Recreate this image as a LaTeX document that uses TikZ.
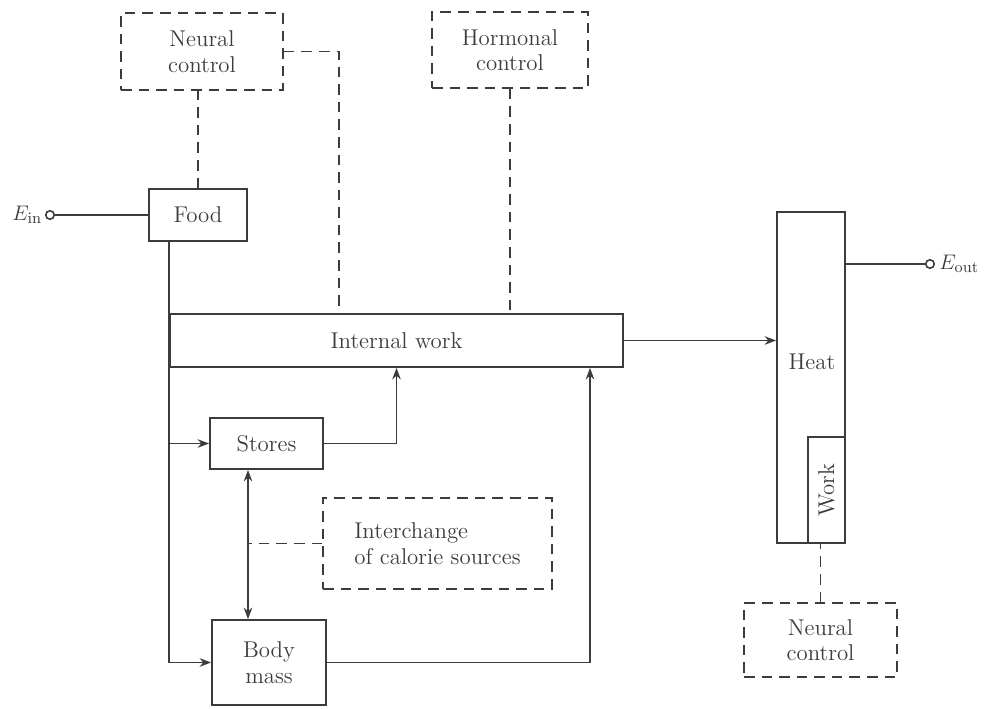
\documentclass[tikz,border=0pt]{standalone}
\usepackage{tikz}
\usetikzlibrary{arrows.meta}
\definecolor{ink}{RGB}{60, 60, 60}

\begin{document}
\begin{tikzpicture}[
  >={Stealth[length=2.3mm,width=1.7mm]},
  every node/.style={text=ink, font=\fontsize{13}{14.5}\selectfont},
  block/.style={draw=ink, line width=1pt, align=center, inner sep=0pt},
  ctrlbox/.style={draw=ink, line width=1pt, dash pattern=on 6pt off 4pt, align=center, inner sep=0pt},
  ctrl/.style={draw=ink, line width=1pt, dash pattern=on 6pt off 4pt},
  flow/.style={draw=ink, line width=1pt},
  port/.style={draw=ink, line width=0.9pt, circle, inner sep=0pt, minimum size=0.17cm}
]
\useasboundingbox (0,0) rectangle (19.88,14.16);
% control boxes
\node[ctrlbox, minimum width=3.24cm, minimum height=1.54cm] (neural) at (4.04,13.13) {Neural\\control};
\node[ctrlbox, minimum width=3.12cm, minimum height=1.52cm] (hormonal) at (10.2,13.16) {Hormonal\\control};
\node[ctrlbox, minimum width=4.58cm, minimum height=1.82cm, align=left] (inter) at (8.75,3.29) {Interchange\\of calorie sources};
\node[ctrlbox, minimum width=3.06cm, minimum height=1.48cm] (neuralout) at (16.41,1.36) {Neural\\control};
% blocks
\node[block, minimum width=1.96cm, minimum height=1.04cm] (food) at (3.96,9.86) {Food};
\node[block, minimum width=9.06cm, minimum height=1.06cm] (iw) at (7.93,7.35) {Internal work};
\node[block, minimum width=2.26cm, minimum height=1.02cm] (stores) at (5.33,5.29) {Stores};
\node[block, minimum width=2.28cm, minimum height=1.70cm] (body) at (5.38,0.91) {Body\\mass};
\node[block, minimum width=1.36cm, minimum height=6.62cm] (heat) at (16.22,6.61) {};
\node (heatlabel) at (16.24,6.92) {Heat};
\node[block, minimum width=0.74cm, minimum height=2.12cm] (work) at (16.53,4.36) {};
\node[rotate=90] (worklabel) at (work.center) {Work};
% energy in / out
\node[port] (ein) at (1.0,9.86) {};
\node[anchor=east, inner sep=0pt] (einlabel) at ([xshift=-0.05cm]ein.west) {$E_{\mathrm{in}}$};
\node[port] (eout) at (18.6,8.88) {};
\node[anchor=west, inner sep=0pt] (eoutlabel) at ([xshift=0.08cm]eout.east) {$E_{\mathrm{out}}$};
\coordinate (swap) at ([xshift=-0.37cm]stores.south);
\coordinate (bodyup) at ([xshift=3.87cm]iw.south);
\coordinate (neuraldown) at ([xshift=-1.15cm]iw.north);
% connectors
\draw[flow] (ein) -- (food.west);
\draw[flow, ->] (food.south -| iw.west) -- (iw.west |- body.west) -- (body.west);
\draw[flow, ->] (iw.west |- stores.west) -- (stores.west);
\draw[flow, ->] (stores.east) -| (iw.south);
\draw[flow, ->] (body.east) -| (bodyup);
\draw[flow, <->] (swap) -- (swap |- body.north);
\draw[flow, ->] (iw.east) -- (iw.east -| heat.west);
\draw[flow] (heat.east |- eout) -- (eout);
\draw[ctrl] (food.north) -- (food.north |- neural.south);
\draw[ctrl] (neural.east) -| (neuraldown);
\draw[ctrl] (hormonal.south) -- (hormonal.south |- iw.north);
\draw[ctrl] (inter.west) -- (inter.west -| swap);
\draw[ctrl] (neuralout.north) -- (neuralout.north |- work.south);
\end{tikzpicture}
\end{document}
